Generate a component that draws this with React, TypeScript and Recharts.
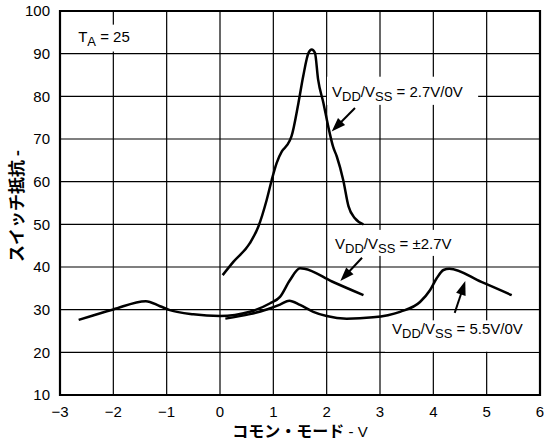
import React from "react";
import { CartesianGrid, Line, LineChart, ReferenceArea, ReferenceLine, XAxis, YAxis } from "recharts";

const xTicks = [-3, -2, -1, 0, 1, 2, 3, 4, 5, 6];
const yTicks = [10, 20, 30, 40, 50, 60, 70, 80, 90, 100];

// VDD/VSS = 2.7V/0V
const uni27X = [0.05, 0.25, 0.56, 0.72, 0.875, 0.97, 1.06, 1.16, 1.26, 1.34, 1.47, 1.56, 1.66, 1.72, 1.78, 1.84, 1.94, 2.03, 2.12, 2.19, 2.31, 2.41, 2.53, 2.69];
const uni27R = [38.1, 41.2, 45.6, 49.5, 55.7, 60.4, 64.3, 67.1, 68.6, 70.6, 78.4, 84.7, 90.2, 91.0, 90.2, 83.9, 78.4, 72.9, 68.2, 65.9, 60.4, 54.2, 51.4, 50.0];

// VDD/VSS = ±2.7V
const bip27X = [-2.65, -2.0, -1.39, -1.125, -0.94, -0.5, 0, 0.56, 0.94, 1.125, 1.31, 1.5, 1.58, 2.1, 2.69];
const bip27R = [27.6, 30.05, 32.0, 30.8, 29.9, 28.9, 28.5, 29.5, 31.5, 33.0, 36.9, 39.7, 39.6, 36.6, 33.4];

// VDD/VSS = 5.5V/0V
const uni55X = [0.1, 0.56, 0.875, 1.125, 1.3, 1.5, 1.75, 2.0, 2.375, 2.87, 3.375, 3.75, 3.94, 4.06, 4.19, 4.3, 4.9, 5.47];
const uni55R = [27.9, 28.95, 30.05, 31.2, 32.1, 31.1, 29.5, 28.5, 27.9, 28.2, 29.5, 31.8, 34.6, 37.3, 39.3, 39.6, 36.5, 33.4];

const zip = (xs: number[], ys: number[]) => xs.map((x, i) => ({ x, r: ys[i] }));

type Part = [string, boolean?];

const labels: { x1: number; x2: number; y1: number; y2: number; dx: number; dy: number; parts: Part[] }[] = [
  { x1: -2.81, x2: -1.5, y1: 90.5, y2: 96.8, dx: 8, dy: 17, parts: [["T"], ["A", true], [" = 25"]] },
  { x1: 2.006, x2: 4.84, y1: 78.0, y2: 84.6, dx: 5, dy: 20, parts: [["V"], ["DD", true], ["/V"], ["SS", true], [" = 2.7V/0V"]] },
  { x1: 2.025, x2: 4.61, y1: 42.6, y2: 48.7, dx: 7, dy: 19, parts: [["V"], ["DD", true], ["/V"], ["SS", true], [" = \u00b12.7V"]] },
  { x1: 3.094, x2: 6, y1: 20.15, y2: 27.5, dx: 7, dy: 14, parts: [["V"], ["DD", true], ["/V"], ["SS", true], [" = 5.5V/0V"]] }
];

const arrows = [
  { from: { x: 2.531, y: 77.26 }, to: { x: 2.094, y: 71.77 } },
  { from: { x: 2.663, y: 42.17 }, to: { x: 2.256, y: 36.7 } },
  { from: { x: 4.401, y: 29.26 }, to: { x: 4.599, y: 36.7 } }
];

const font = "'Liberation Sans', Arial, Helvetica, sans-serif";
const jpFont = "'Noto Sans CJK JP', sans-serif";

function Arrow(props: any) {
  const { x1, y1, x2, y2 } = props;
  const dx = x2 - x1;
  const dy = y2 - y1;
  const len = Math.hypot(dx, dy) || 1;
  const ux = dx / len;
  const uy = dy / len;
  const head = 14;
  const half = 5;
  const bx = x2 - ux * head;
  const by = y2 - uy * head;
  return (
    <g>
      <line x1={x1} y1={y1} x2={bx + ux * 2} y2={by + uy * 2} stroke="#000" strokeWidth={2} />
      <polygon points={`${x2},${y2} ${bx - uy * half},${by + ux * half} ${bx + uy * half},${by - ux * half}`} fill="#000" />
    </g>
  );
}

function labelShape(dx: number, dy: number, parts: Part[]) {
  return (props: any) => {
    const { x, y, width, height } = props;
    let shift = 0;
    return (
      <g>
        <rect x={x} y={y} width={width} height={height} fill="#fff" />
        <text x={x + dx} y={y + dy} fontSize={15} fill="#000" style={{ whiteSpace: "pre", fontFamily: font }}>
          {parts.map(([t, sub], i) => {
            const target = sub ? 4 : 0;
            const d = target - shift;
            shift = target;
            return (
              <tspan key={i} dy={d} fontSize={sub ? 13 : 15}>
                {t}
              </tspan>
            );
          })}
        </text>
      </g>
    );
  };
}

export default function App() {
  return (
    <div style={{ position: "absolute", left: 0, top: 0, width: 544, height: 442, background: "#fff", fontFamily: font }}>
      <LineChart width={544} height={442} margin={{ top: 11, right: 4, bottom: 17, left: 0 }}>
        <CartesianGrid stroke="#000" strokeWidth={1.2} />
        <XAxis
          type="number"
          dataKey="x"
          domain={[-3, 6]}
          ticks={xTicks}
          allowDataOverflow
          tickLine={false}
          axisLine={false}
          tickMargin={5}
          height={30}
          tick={{ fill: "#000", fontSize: 15 }}
          tickFormatter={(v: number) => (v < 0 ? `\u2212${Math.abs(v)}` : `${v}`)}
          label={(p: any) => {
            const vb = p.viewBox;
            return (
              <text x={vb.x + vb.width / 2} y={437} textAnchor="middle" fill="#000" style={{ whiteSpace: "pre" }}>
                <tspan fontFamily={jpFont} fontWeight="bold" fontSize={16}>コモン・モード</tspan>
                <tspan fontFamily={font} fontSize={15}> - V</tspan>
              </text>
            );
          }}
        />
        <YAxis
          type="number"
          domain={[10, 100]}
          ticks={yTicks}
          allowDataOverflow
          width={60}
          tickLine={false}
          axisLine={false}
          tickMargin={4}
          tick={{ fill: "#000", fontSize: 15 }}
          label={(p: any) => {
            const vb = p.viewBox;
            const cy = vb.y + vb.height / 2 + 3;
            return (
              <text x={15} y={cy} transform={`rotate(-90 15 ${cy})`} textAnchor="middle" dominantBaseline="central" fill="#000" fontFamily={jpFont} fontWeight="bold" fontSize={17}>
                スイッチ抵抗 -
              </text>
            );
          }}
        />
        {labels.map((l, i) => (
          <ReferenceArea key={`l${i}`} x1={l.x1} x2={l.x2} y1={l.y1} y2={l.y2} ifOverflow="visible" shape={labelShape(l.dx, l.dy, l.parts)} />
        ))}
        {arrows.map((a, i) => (
          <ReferenceLine key={`a${i}`} segment={[a.from, a.to]} ifOverflow="visible" shape={Arrow} />
        ))}
        <ReferenceArea x1={-3} x2={6} y1={10} y2={100} ifOverflow="visible" fill="none" fillOpacity={0} stroke="#000" strokeWidth={2.2} />
        <Line data={zip(uni27X, uni27R)} dataKey="r" type="monotone" stroke="#000" strokeWidth={2.5} dot={false} isAnimationActive={false} />
        <Line data={zip(bip27X, bip27R)} dataKey="r" type="monotone" stroke="#000" strokeWidth={2.5} dot={false} isAnimationActive={false} />
        <Line data={zip(uni55X, uni55R)} dataKey="r" type="monotone" stroke="#000" strokeWidth={2.5} dot={false} isAnimationActive={false} />
      </LineChart>
    </div>
  );
}
